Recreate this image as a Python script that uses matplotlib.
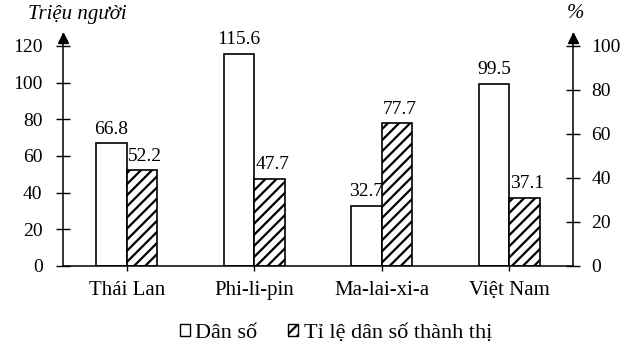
import matplotlib.pyplot as plt
from matplotlib.patches import Patch
import numpy as np

plt.rcParams['font.family'] = ['Liberation Serif', 'DejaVu Serif']
plt.rcParams['hatch.linewidth'] = 1.6

countries = ['Thái Lan', 'Phi-li-pin', 'Ma-lai-xi-a', 'Việt Nam']
dan_so = [66.8, 115.6, 32.7, 99.5]          # triệu người
ti_le_do_thi = [52.2, 47.7, 77.7, 37.1]     # %

left_ticks = [0, 20, 40, 60, 80, 100, 120]
right_ticks = [0, 20, 40, 60, 80, 100]

fig = plt.figure(figsize=(6.38, 3.48), dpi=100)
ax = fig.add_axes([63 / 638, 82 / 348, 510 / 638, 232 / 348])
ax2 = ax.twinx()

x = np.arange(len(countries))
w = 0.24
ymax = 126.5
num_fs = 14
txt_fs = 15

ax.bar(x - w, dan_so, width=w, align='edge', facecolor='white',
       edgecolor='black', linewidth=1.2)
ax.bar(x, ti_le_do_thi, width=w, align='edge', facecolor='white',
       edgecolor='black', linewidth=1.2, hatch='///')

for xi, v in zip(x, dan_so):
    ax.annotate(f'{v}', (xi - w / 2, v), xytext=(0, 4), textcoords='offset points',
                ha='center', va='bottom', fontsize=num_fs)
for xi, v in zip(x, ti_le_do_thi):
    ax.annotate(f'{v}', (xi + w / 2, v), xytext=(2, 4), textcoords='offset points',
                ha='center', va='bottom', fontsize=num_fs)

ax.set_xlim(-0.5, len(countries) - 0.5)
ax.set_ylim(0, ymax)
ax2.set_ylim(0, ymax * 100 / 120)

ax.set_yticks(left_ticks)
ax2.set_yticks(right_ticks)
ax.set_xticks(x)
ax.set_xticklabels(countries)

for a in (ax, ax2):
    a.spines['top'].set_visible(False)
    for s in ('left', 'right', 'bottom'):
        a.spines[s].set_linewidth(1.1)

ax.spines['right'].set_visible(False)
ax2.spines['left'].set_visible(False)
ax2.spines['bottom'].set_visible(False)

ax.tick_params(axis='y', direction='inout', length=9.5, width=1.0, labelsize=num_fs, pad=10)
ax2.tick_params(axis='y', direction='inout', length=9.5, width=1.0, labelsize=num_fs, pad=8.5)
ax.tick_params(axis='x', direction='out', length=3.6, width=1.0, labelsize=txt_fs, pad=7)

# arrow heads on both vertical axes
for xa in (0, 1):
    ax.plot([xa], [124.2], marker='^', markersize=7, color='black',
            transform=ax.get_yaxis_transform(), clip_on=False)

fig.text(28 / 638, 1 - 15 / 348, 'Triệu người', style='italic', fontsize=txt_fs,
         ha='left', va='center')
fig.text(576 / 638, 1 - 13 / 348, '%', style='italic', fontsize=txt_fs,
         ha='center', va='center')

handles = [Patch(facecolor='white', edgecolor='black', linewidth=1.0),
           Patch(facecolor='white', edgecolor='black', linewidth=1.0, hatch='///')]
fig.legend(handles, ['Dân số', 'Tỉ lệ dân số thành thị'], loc='center',
           bbox_to_anchor=(336 / 638, 1 - 333 / 348), ncol=2, frameon=False,
           fontsize=16, handlelength=0.45, handleheight=0.45, handletextpad=0.25,
           columnspacing=1.4, borderpad=0)

fig.savefig('out.png', dpi=100)
